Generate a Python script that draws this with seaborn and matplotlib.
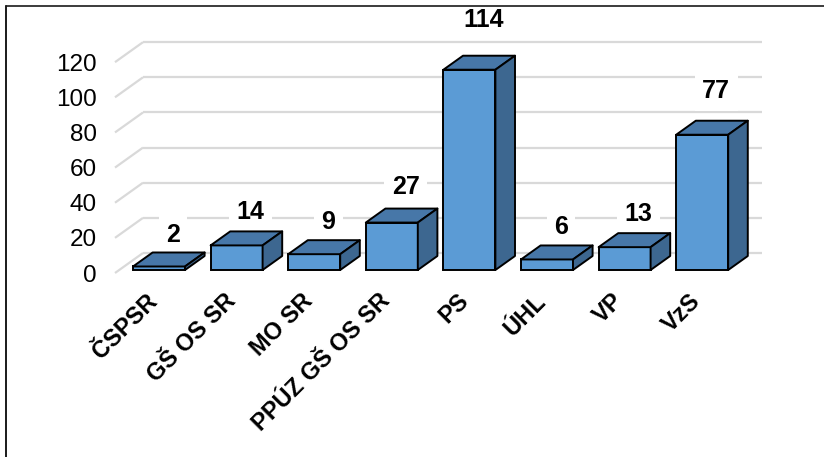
import matplotlib
matplotlib.use("Agg")
import matplotlib.pyplot as plt
from matplotlib.patches import Polygon
from matplotlib.lines import Line2D
from matplotlib.transforms import ScaledTranslation
import seaborn as sns

categories = ["ČSPSR", "GŠ OS SR", "MO SR", "PPÚZ GŠ OS SR", "PS", "ÚHL", "VP", "VzS"]
values = [2, 14, 9, 27, 114, 6, 13, 77]
yticks = [0, 20, 40, 60, 80, 100, 120]

FRONT = "#5b9bd5"
TOP = "#4777a8"
SIDE = "#3d6790"
GRID = "#d9d9d9"

sns.set_theme(style="white")
plt.rcParams["font.family"] = ["Liberation Sans", "DejaVu Sans"]

fig = plt.figure(figsize=(8.24, 4.57), dpi=100)
# axes = front plane of the 3d box (pixel layout)
ax = fig.add_axes([115 / 824, 184 / 457, 619 / 824, 228.4 / 457])

sns.barplot(x=categories, y=values, color=FRONT, saturation=1, width=0.67,
            edgecolor="black", linewidth=1.4, zorder=3, ax=ax)

ax.set_xlim(-0.513, 7.464)
ax.set_ylim(0, 130)

# depth of the box in data units (28 px right, 20 px up)
DX = 28 / 77.6
DY = 20 / 1.757
front_d, back_d = 0.15, 0.85

# back wall gridlines + left side wall lines
x0, x1 = ax.get_xlim()
for v in yticks:
    ax.plot([x0 + DX, x1 + DX], [v + DY, v + DY], color=GRID, lw=1.6,
            zorder=1, clip_on=False, solid_capstyle="butt")
    ax.plot([x0, x0 + DX], [v, v + DY], color=GRID, lw=1.6,
            zorder=1, clip_on=False, solid_capstyle="butt")

# turn flat bars into boxes
d = (back_d - front_d) * DX
e = (back_d - front_d) * DY
for p, v in zip(ax.patches, values):
    p.set_x(p.get_x() + front_d * DX)
    p.set_y(front_d * DY)
    bx, by, w, h = p.get_x(), p.get_y(), p.get_width(), p.get_height()
    top = [(bx, by + h), (bx + w, by + h), (bx + w + d, by + h + e), (bx + d, by + h + e)]
    side = [(bx + w, by), (bx + w + d, by + e), (bx + w + d, by + h + e), (bx + w, by + h)]
    ax.add_patch(Polygon(top, closed=True, facecolor=TOP, edgecolor="black",
                         lw=1.4, zorder=3, clip_on=False, joinstyle="round"))
    ax.add_patch(Polygon(side, closed=True, facecolor=SIDE, edgecolor="black",
                         lw=1.4, zorder=3, clip_on=False, joinstyle="round"))
    p.set_clip_on(False)
    ax.text(bx + w / 2 + 0.5 * DX, v + 19.5 + 0.09 * v, str(v), ha="center", va="center",
            fontsize=18, fontweight="bold", color="black", zorder=2,
            bbox=dict(boxstyle="square,pad=0.3", fc="white", ec="none"))

sns.despine(ax=ax, left=True, bottom=True)
ax.set_xlabel("")
ax.set_ylabel("")
ax.set_yticks(yticks)
ax.set_yticklabels([str(t) for t in yticks], fontsize=17.5, color="black")
ax.tick_params(axis="y", length=0, pad=13)
ax.tick_params(axis="x", length=0, pad=21)
ax.set_xticks(range(len(categories)))
ax.set_xticklabels(categories, fontsize=17, fontweight="bold", rotation=45,
                   ha="right", va="baseline", rotation_mode="anchor", color="black")
shift = ScaledTranslation(4 / 100, 0, fig.dpi_scale_trans)
for lbl in ax.get_xticklabels():
    lbl.set_transform(lbl.get_transform() + shift)
ax.grid(False)
ax.patch.set_alpha(0)

# chart border (only top and left edges visible in the crop)
fig.add_artist(Line2D([6 / 824, 1], [1 - 6 / 457, 1 - 6 / 457], color="#1a1a1a", lw=1.2))
fig.add_artist(Line2D([6 / 824, 6 / 824], [0, 1 - 6 / 457], color="#1a1a1a", lw=1.4))

fig.savefig("out.png", dpi=100)
